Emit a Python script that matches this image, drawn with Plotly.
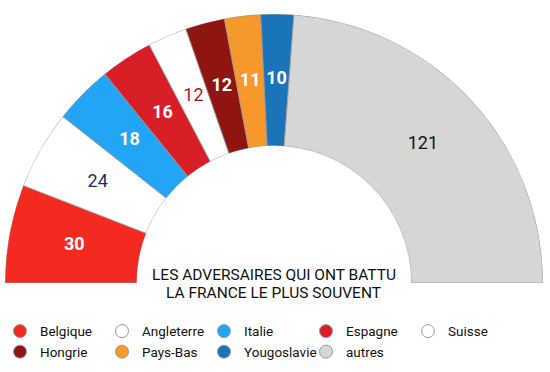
import plotly.graph_objects as go

countries = ["Belgique", "Angleterre", "Italie", "Espagne", "Suisse",
             "Hongrie", "Pays-Bas", "Yougoslavie", "autres"]
defeats = [30, 24, 18, 16, 12, 12, 11, 10, 121]
colors = ["#f4291f", "#ffffff", "#22a5f5", "#d81e26", "#ffffff",
          "#8e1510", "#f7982c", "#1b74b8", "#d6d6d6"]
label_colors = ["#ffffff", "#1d2b6a", "#ffffff", "#ffffff", "#ad1820",
                "#ffffff", "#ffffff", "#ffffff", "#111111"]
title_lines = ["LES ADVERSAIRES QUI ONT BATTU", "LA FRANCE LE PLUS SOUVENT"]

FONT = "Roboto"
total = sum(defeats)
widths = [v / total * 180 for v in defeats]
centers = []
acc = 0
for v in defeats:
    centers.append(180 - (acc + v / 2) / total * 180)
    acc += v
labels = [f"<b>{v}</b>" if c == "#ffffff" else str(v)
          for v, c in zip(defeats, label_colors)]

fig = go.Figure()
fig.add_trace(go.Barpolar(
    r=[1] * len(defeats), theta=centers, width=widths,
    marker=dict(color=colors, line=dict(color="#9a9a9a", width=0.8)),
    showlegend=False, hoverinfo="skip"))
fig.add_trace(go.Scatterpolar(
    r=[0.5] * len(defeats), theta=centers, mode="text",
    text=labels,
    textfont=dict(family=FONT, size=18, color=label_colors),
    showlegend=False, hoverinfo="skip"))
for name, col in zip(countries, colors):
    fig.add_trace(go.Scatterpolar(
        r=[None], theta=[None], mode="markers", name=name,
        marker=dict(symbol="circle", size=13, color=col,
                    line=dict(color="#9a9a9a", width=1))))

title_y = [274.5, 293]
fig.update_layout(
    width=550, height=372,
    margin=dict(l=0, r=0, t=0, b=0, pad=0, autoexpand=False),
    paper_bgcolor="white", plot_bgcolor="white",
    polar=dict(
        domain=dict(x=[5 / 550, 543 / 550], y=[89 / 372, 358 / 372]),
        sector=[0, 180], hole=0.51, bgcolor="white",
        radialaxis=dict(range=[0, 1], visible=False),
        angularaxis=dict(visible=False)),
    legend=dict(orientation="h", x=0, xanchor="left", y=0.151, yanchor="top",
                font=dict(family=FONT, size=13.5, color="#111111"),
                entrywidth=57, itemwidth=30, itemsizing="trace",
                tracegroupgap=0, borderwidth=0, bgcolor="rgba(0,0,0,0)"),
    annotations=[dict(
        text=t, x=0.498, y=(372 - yy) / 372,
        xref="paper", yref="paper",
        xanchor="center", yanchor="middle", showarrow=False,
        font=dict(family=FONT, size=15.5, color="#111111"))
        for t, yy in zip(title_lines, title_y)],
)
fig.write_html("out.html", config={"displayModeBar": False},
               post_script="document.body.style.margin='0';")
